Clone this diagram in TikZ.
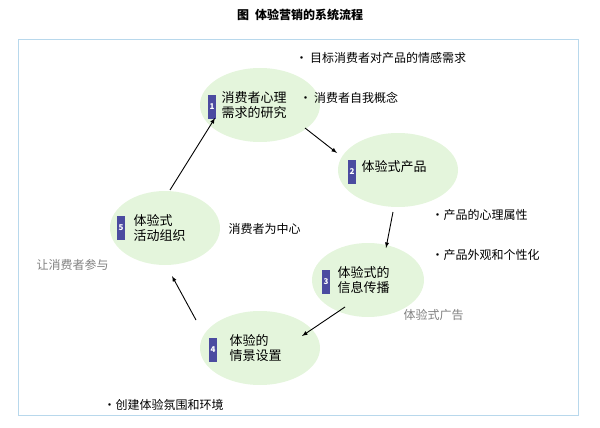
\documentclass[tikz,border=0pt]{standalone}
\usepackage{fontspec}
\setmainfont{Noto Sans CJK SC}
\usetikzlibrary{shapes.geometric}
\definecolor{egreen}{HTML}{E4F5DC}
\definecolor{nblue}{HTML}{4B4BA0}
\definecolor{frame}{HTML}{B8D8EC}
\begin{document}
\begin{tikzpicture}[x=1pt,y=-1pt,
  stage/.style={ellipse,fill=egreen,minimum width=120,minimum height=74,inner sep=0pt},
  num/.style={fill=nblue,text=white,minimum width=8,minimum height=24,inner sep=0pt,font=\fontsize{8}{9}\selectfont\bfseries},
  lbl/.style={font=\fontsize{13}{15}\selectfont,align=left},
  side/.style={font=\fontsize{12}{14}\selectfont,anchor=west},
  arr/.style={-latex,line width=0.9pt}]
\useasboundingbox (0,0) rectangle (600,428);
\node[font=\fontsize{12}{14}\selectfont\bfseries] (t) at (300,15) {图\enspace 体验营销的系统流程};
\draw[frame,line width=1pt] (18,40) rectangle (578,415);
\node[stage] (e1) at (260,105) {};
\node[stage] (e2) at (398,170) {};
\node[stage,minimum width=112] (e3) at (368,280) {};
\node[stage] (e4) at (260,348) {};
\node[stage,minimum width=110] (e5) at (165,228) {};
\node[num] (n1) at (212,107) {1};
\node[lbl,anchor=west] (l1) at (218,105) {消费者心理\\需求的研究};
\node[num] (n2) at (352,172) {2};
\node[lbl,anchor=west] (l2) at (358,167) {体验式产品};
\node[num] (n3) at (326,282) {3};
\node[lbl,anchor=west] (l3) at (334,280) {体验式的\\信息传播};
\node[num] (n4) at (213,350) {4};
\node[lbl,anchor=west] (l4) at (226,348) {体验的\\情景设置};
\node[num] (n5) at (121,228) {5};
\node[lbl,anchor=west] (l5) at (130,228) {体验式\\活动组织};
\coordinate (a1) at (305,128); \coordinate (b1) at (337,153);
\coordinate (a2) at (393,212); \coordinate (b2) at (386,248);
\coordinate (a3) at (345,307); \coordinate (b3) at (302,336);
\coordinate (a4) at (196,320); \coordinate (b4) at (172,276);
\coordinate (a5) at (170,190); \coordinate (b5) at (215,118);
\draw[arr] (a1) -- (b1);
\draw[arr] (a2) -- (b2);
\draw[arr] (a3) -- (b3);
\draw[arr] (a4) -- (b4);
\draw[arr] (a5) -- (b5);
\node[side] (s1) at (292,58) {• 目标消费者对产品的情感需求};
\node[side] (s2) at (296,98) {· 消费者自我概念};
\node[side] (s3) at (428,215) {•产品的心理属性};
\node[side] (s4) at (428,255) {•产品外观和个性化};
\node[side,text=gray] (s5) at (400,315) {体验式广告};
\node[side] (s6) at (225,229) {消费者为中心};
\node[side,text=gray] (s7) at (33,265) {让消费者参与};
\node[side] (s8) at (100,405) {•创建体验氛围和环境};
\end{tikzpicture}
\end{document}
